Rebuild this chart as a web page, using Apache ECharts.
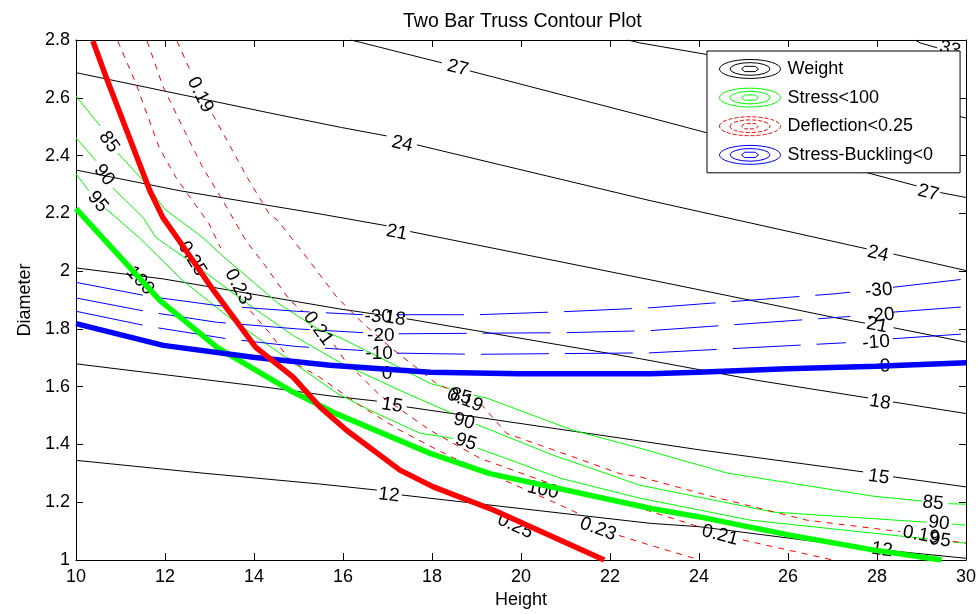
<!DOCTYPE html>
<html>
<head>
<meta charset="utf-8">
<script src="https://cdn.jsdelivr.net/npm/echarts@6/dist/echarts.min.js"></script>
<style>
html,body{margin:0;padding:0;background:#fff;}
#chart{width:980px;height:614px;}
</style>
</head>
<body>
<div id="chart"></div>
<script>
// ---------- axis ticks ----------
const xTicks = [10, 12, 14, 16, 18, 20, 22, 24, 26, 28, 30];
const yTicks = [1, 1.2, 1.4, 1.6, 1.8, 2, 2.2, 2.4, 2.6, 2.8];

// ---------- Weight contours (null = gap for inline label) ----------
const weight12 = [[10,1.345],[12.83,1.301],[15.48,1.263],[16.76,1.242],null,[17.32,1.225],[22.90,1.127],[24.02,1.115],[27.84,1.040],null,[28.36,1.031],[30,1.006]];
const weight15 = [[10,1.679],[13.98,1.604],[15.71,1.568],[16.76,1.550],null,[17.43,1.530],[22.90,1.407],[23.98,1.382],[27.69,1.305],null,[28.36,1.288],[30,1.253]];
const weight18 = [[10,2.011],[11.96,1.973],[15.93,1.869],[16.90,1.847],null,[17.43,1.835],[22.67,1.697],[25.30,1.622],[27.80,1.561],null,[28.36,1.547],[30,1.507]];
const weight21 = [[10,2.350],[12.34,2.278],[15.48,2.198],[16.98,2.157],null,[17.51,2.137],[22.90,1.970],[25.00,1.904],[27.02,1.840],[27.73,1.820],null,[28.37,1.804],[30,1.754]];
const weight24 = [[10,2.687],[14.49,2.543],[15.97,2.497],[16.98,2.468],null,[17.66,2.437],[22.90,2.244],[27.77,2.077],null,[28.37,2.059],[30,2.002]];
const weight27 = [[16.18,2.800],[18.22,2.721],null,[18.85,2.693],[22.90,2.531],[24.17,2.479],[27.77,2.341],[28.89,2.295],null,[29.42,2.272],[30,2.255]];
const weight30 = [[22.40,2.800],[22.67,2.790],[24.17,2.750],[27.00,2.640],[30,2.530]];
const weight33 = [[28.85,2.800],[28.97,2.790],[29.35,2.773]];

// ---------- Stress contours ----------
const stress85 = [[10,2.606],[10.54,2.503],null,[10.94,2.409],[11.62,2.295],[11.98,2.216],[12.85,2.116],[13.24,2.060],[14.29,1.922],[14.52,1.891],[15.42,1.801],[15.93,1.770],[16.83,1.701],[17.96,1.611],[18.40,1.593],null,[18.94,1.571],[19.24,1.560],[21.17,1.449],[22.67,1.387],[24.63,1.301],[27.91,1.221],[29.01,1.204],null,[29.60,1.195],[30,1.193]];
const stress90 = [[10,2.461],[10.45,2.382],null,[10.83,2.288],[11.51,2.185],[11.80,2.116],[12.63,2.026],[13.91,1.881],[14.88,1.777],[15.93,1.684],[17.28,1.587],[18.45,1.508],null,[18.99,1.470],[20.72,1.363],[22.67,1.259],[25.66,1.166],[29.10,1.131],null,[29.69,1.124],[30,1.121]];
const stress95 = [[10,2.337],[10.29,2.278],null,[10.67,2.216],[11.42,2.116],[12.40,1.967],[13.53,1.829],[14.81,1.691],[15.87,1.577],[16.61,1.518],[17.73,1.439],[18.47,1.421],null,[19.03,1.387],[20.88,1.283],[22.67,1.214],[25.15,1.138],[28.52,1.083],[29.15,1.073],null,[29.71,1.062],[30,1.059]];
const stress100 = [[10,2.216],[11.89,1.898],[13.17,1.736],[14.81,1.587],[15.87,1.505],[17.96,1.369],[19.30,1.299],[22.90,1.179],[23.98,1.150],[26.04,1.086],[27.91,1.035],[29.45,1.000]];

// ---------- Deflection contours ----------
const defl19 = [[12.27,2.796],[12.55,2.700],null,[13.07,2.543],[13.52,2.416],[13.89,2.313],[14.34,2.199],[14.54,2.174],[15.18,2.048],[15.86,1.910],[16.45,1.819],[17.06,1.737],[18.11,1.610],[18.40,1.590],null,[19.10,1.540],[19.68,1.438],[21.17,1.357],[22.22,1.299],[22.67,1.288],[24.17,1.225],[26.42,1.138],[28.52,1.098],null,[29.70,1.065],[30,1.058]];
const defl21 = [[11.60,2.796],[11.95,2.641],[12.47,2.475],[12.85,2.358],[13.30,2.244],[13.82,2.105],[14.25,2.019],[14.81,1.898],[15.10,1.860],null,[15.80,1.745],[16.04,1.691],[16.83,1.570],[17.96,1.449],[19.08,1.352],[20.88,1.252],[22.67,1.180],[24.02,1.114],null,[24.99,1.069],[27.01,1.000]];
const defl23 = [[10.94,2.796],[11.35,2.648],[11.87,2.427],[12.25,2.323],[12.99,2.164],[13.25,2.080],null,[13.91,1.864],[14.36,1.784],[14.81,1.691],[15.48,1.632],[16.38,1.535],[17.28,1.449],[18.40,1.359],[19.53,1.283],[20.88,1.190],[21.30,1.160],null,[22.20,1.085],[22.67,1.062],[23.80,1.010],[24.02,1.000]];
const defl25 = [[10.38,2.796],[10.71,2.658],[11.66,2.278],[11.95,2.186],[12.32,2.105],[13.09,1.933],[14.04,1.736],[14.88,1.633],[15.48,1.530],[16.08,1.449],[17.28,1.311],[18.03,1.253],[19.38,1.173],[21.87,1.000]];

// ---------- Stress-Buckling contours ----------
const buckM30 = [[10,1.961],[11.66,1.912],[13.16,1.881],[14.96,1.861],[16.45,1.849],null,[17.19,1.849],[19.00,1.849],[21.03,1.860],[22.90,1.873],[27.02,1.921],[27.40,1.927],null,[28.36,1.944],[30,1.973]];
const buckM20 = [[10,1.907],[11.66,1.858],[13.16,1.823],[14.96,1.800],[16.45,1.787],null,[17.25,1.783],[21.03,1.787],[22.90,1.794],[27.40,1.843],null,[28.36,1.858],[30,1.877]];
const buckM10 = [[10,1.861],[11.66,1.808],[13.39,1.766],[14.96,1.739],[16.45,1.725],null,[17.21,1.716],[19.00,1.712],[22.90,1.717],[27.30,1.752],null,[28.36,1.766],[30,1.783]];
const buck0 = [[10,1.818],[11.96,1.743],[13.98,1.702],[15.71,1.674],[17.96,1.650],[19.98,1.645],[22.90,1.645],[23.98,1.650],[25.97,1.662],[27.99,1.671],[30,1.683]];

// ---------- inline contour labels: [text, x, y] ----------
const weightLabels = [['27',18.58,2.703],['24',17.33,2.440],['21',17.21,2.133],['18',17.17,1.836],['15',17.10,1.535],['12',17.03,1.225],
  ['33',29.64,2.768],['27',29.15,2.271],['24',28.02,2.060],['21',28.00,1.812],['18',28.07,1.546],['15',28.04,1.287],['12',28.11,1.035]];
const weightLabelRot = [-14,-13,-11,-9,-9,-7,-14,-14,-13,-11,-9,-8,-8];
const stressLabels = [['85',10.74,2.447],['90',10.63,2.333],['95',10.49,2.240],['85',18.65,1.566],['90',18.72,1.480],['95',18.76,1.408],['85',29.26,1.197],['90',29.39,1.128],['95',29.42,1.069]];
const stressLabelRot = [-55,-52,-50,-15,-15,-18,-6,-7,-8];
const stress100Labels = [['100',11.44,1.967],['100',20.49,1.242]];
const stress100LabelRot = [-48,-12];
const deflLabels = [['0.19',12.79,2.610],['0.23',13.64,1.946],['0.21',15.44,1.801],['0.19',18.74,1.553],['0.23',21.73,1.107],['0.21',24.47,1.086],['0.19',28.99,1.086]];
const deflLabelRot = [-64,-62,-54,-22,-20,-15,-10];
const defl25Labels = [['0.25',12.61,2.043],['0.25',19.87,1.117]];
const defl25LabelRot = [-58,-25];
const buckLabels = [['-30',16.79,1.843],['-20',16.85,1.777],['-10',16.81,1.715],['-30',28.04,1.933],['-20',28.09,1.846],['-10',27.98,1.753]];
const buckLabelRot = [0,0,0,5,5,4];
const buck0Labels = [['0',16.99,1.646],['0',28.18,1.670]];
const buck0LabelRot = [0,2];

// ---------- legend ----------
const legendNames = ['Weight', 'Stress<100', 'Deflection<0.25', 'Stress-Buckling<0'];

const FONT = "'Liberation Sans', Arial, Helvetica, sans-serif";
const BLACK = '#000000', GREEN = '#00ff00', RED = '#ff0000', BLUE = '#0000ff';

const series = [];
function segments(arr) {
  const out = []; let cur = [];
  arr.forEach(p => { if (p === null) { if (cur.length) out.push(cur); cur = []; } else cur.push(p); });
  if (cur.length) out.push(cur);
  return out;
}
function addLine(name, arr, lineStyle, z) {
  segments(arr).forEach(seg => series.push({
    type: 'line', name: name, data: seg, symbol: 'none', showSymbol: false,
    lineStyle: lineStyle, z: z, silent: true, animation: false, clip: true
  }));
}
function addLabels(labels, rots, z) {
  series.push({
    type: 'scatter', data: labels.map((l, i) => ({
      value: [l[1], l[2]],
      label: { formatter: l[0], rotate: rots[i] }
    })),
    symbol: 'circle', symbolSize: 1, itemStyle: { color: 'rgba(0,0,0,0)' },
    label: { show: true, position: 'inside', color: BLACK, fontSize: 19, fontFamily: FONT,
             textBorderWidth: 0, textShadowBlur: 0, opacity: 1 },
    labelLayout: { hideOverlap: false },
    z: z, silent: true, animation: false
  });
}

const thinBlack = { color: BLACK, width: 1 };
[weight12, weight15, weight18, weight21, weight24, weight27, weight30, weight33].forEach(a => addLine('Weight', a, thinBlack, 2));
const thinGreen = { color: GREEN, width: 1 };
[stress85, stress90, stress95].forEach(a => addLine('Stress<100', a, thinGreen, 2));
const dashRed = { color: RED, width: 1, type: [6, 6] };
[defl19, defl21, defl23].forEach(a => addLine('Deflection<0.25', a, dashRed, 2));
const dashBlue = { color: BLUE, width: 1, type: [68, 16] };
[buckM30, buckM20, buckM10].forEach(a => addLine('Stress-Buckling<0', a, dashBlue, 2));

addLabels(weightLabels, weightLabelRot, 3);
addLabels(stressLabels, stressLabelRot, 3);
addLabels(stress100Labels, stress100LabelRot, 3);
addLabels(deflLabels, deflLabelRot, 3);
addLabels(defl25Labels, defl25LabelRot, 3);
addLabels(buckLabels, buckLabelRot, 3);
addLabels(buck0Labels, buck0LabelRot, 3);

addLine('Stress<100', stress100, { color: GREEN, width: 5.5 }, 5);
addLine('Stress-Buckling<0', buck0, { color: BLUE, width: 5.5 }, 6);
addLine('Deflection<0.25', defl25, { color: RED, width: 5.5 }, 7);

const ICON = 'path://M1,10 A29,9 0 1 1 59,10 A29,9 0 1 1 1,10 Z M11,10 A19,6 0 1 1 49,10 A19,6 0 1 1 11,10 Z M22,10 L25,7.5 L35,7.5 L38,10 L35,12.5 L25,12.5 Z';
const legendColors = [BLACK, GREEN, RED, BLUE];

const axisCommon = {
  axisLine: { show: true, onZero: false, lineStyle: { color: BLACK, width: 1 } },
  axisTick: { show: true, inside: true, length: 7, lineStyle: { color: BLACK } },
  splitLine: { show: false }
};

const option = {
  backgroundColor: '#ffffff',
  animation: false,
  title: {
    text: 'Two Bar Truss Contour Plot', left: 398, top: 7,
    textStyle: { fontFamily: FONT, fontSize: 19.5, fontWeight: 'normal', color: BLACK }
  },
  grid: { left: 76, right: 14, top: 40, bottom: 54, containLabel: false },
  legend: {
    orient: 'vertical', left: 707, top: 51,
    padding: [8, 27, 8, 12], itemWidth: 61, itemHeight: 20, itemGap: 8.7,
    borderColor: BLACK, borderWidth: 1, backgroundColor: '#ffffff',
    selectedMode: false, z: 20,
    textStyle: { fontFamily: FONT, fontSize: 18, color: BLACK, padding: [0, 0, 0, 2] },
    data: legendNames.map((n, i) => ({
      name: n, icon: ICON,
      itemStyle: { color: 'rgba(0,0,0,0)', borderColor: legendColors[i], borderWidth: 1, borderType: i === 2 ? 'dashed' : 'solid' }
    }))
  },
  xAxis: [
    Object.assign({
      type: 'value', min: xTicks[0], max: xTicks[xTicks.length - 1], interval: xTicks[1] - xTicks[0], position: 'bottom',
      axisLabel: { color: BLACK, fontSize: 18, fontFamily: FONT, margin: 8 },
      name: 'Height', nameLocation: 'middle', nameGap: 31,
      nameTextStyle: { color: BLACK, fontSize: 18, fontFamily: FONT }
    }, axisCommon),
    Object.assign({
      type: 'value', min: xTicks[0], max: xTicks[xTicks.length - 1], interval: xTicks[1] - xTicks[0], position: 'top',
      axisLabel: { show: false }
    }, axisCommon)
  ],
  yAxis: [
    Object.assign({
      type: 'value', min: yTicks[0], max: yTicks[yTicks.length - 1], interval: 0.2, position: 'left',
      axisLabel: { color: BLACK, fontSize: 18, fontFamily: FONT, margin: 6 },
      name: 'Diameter', nameLocation: 'middle', nameGap: 42, nameRotate: 90,
      nameTextStyle: { color: BLACK, fontSize: 18, fontFamily: FONT }
    }, axisCommon),
    Object.assign({
      type: 'value', min: yTicks[0], max: yTicks[yTicks.length - 1], interval: 0.2, position: 'right',
      axisLabel: { show: false }
    }, axisCommon)
  ],
  series: series
};

const chart = echarts.init(document.getElementById('chart'), null, { renderer: 'canvas' });
chart.setOption(option);
</script>
</body>
</html>
